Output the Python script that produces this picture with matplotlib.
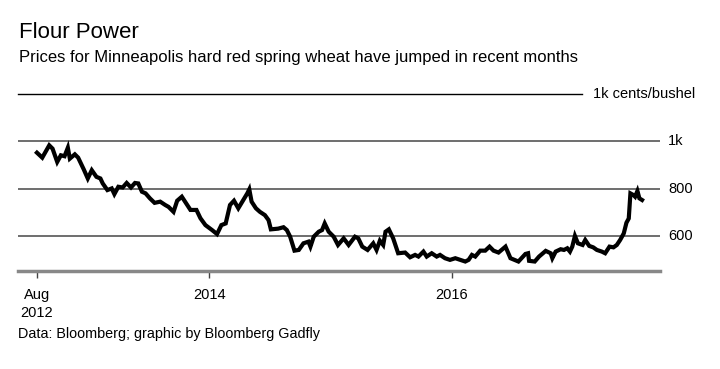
import matplotlib
matplotlib.use("Agg")
import matplotlib.pyplot as plt
import pandas as pd

plt.rcParams['font.family'] = ['Liberation Sans', 'DejaVu Sans']

dates = [
    "2012-08-01", "2012-08-17", "2012-09-07", "2012-09-17", "2012-10-01", "2012-10-12",
    "2012-10-23", "2012-11-02", "2012-11-08", "2012-11-23", "2012-12-03", "2012-12-20",
    "2013-01-01", "2013-01-13", "2013-01-27", "2013-02-08", "2013-02-15", "2013-03-01",
    "2013-03-14", "2013-03-22", "2013-04-03", "2013-04-16", "2013-04-28", "2013-05-11",
    "2013-05-23", "2013-06-02", "2013-06-13", "2013-06-24", "2013-07-07", "2013-07-21",
    "2013-08-07", "2013-08-22", "2013-09-01", "2013-09-16", "2013-09-27", "2013-10-11",
    "2013-11-06", "2013-11-24", "2013-12-06", "2013-12-21", "2014-01-10", "2014-01-25",
    "2014-02-07", "2014-02-20", "2014-03-05", "2014-03-17", "2014-03-30", "2014-04-14",
    "2014-04-26", "2014-05-02", "2014-05-09", "2014-05-22", "2014-06-03", "2014-06-18",
    "2014-06-29", "2014-07-06", "2014-07-28", "2014-08-13", "2014-08-23", "2014-09-02",
    "2014-09-15", "2014-09-28", "2014-10-12", "2014-10-27", "2014-11-02", "2014-11-12",
    "2014-11-27", "2014-12-07", "2014-12-15", "2014-12-27", "2015-01-11", "2015-01-24",
    "2015-02-10", "2015-02-25", "2015-03-16", "2015-03-26", "2015-04-07", "2015-04-23",
    "2015-05-10", "2015-05-20", "2015-05-30", "2015-06-09", "2015-06-16", "2015-06-26",
    "2015-07-09", "2015-07-24", "2015-08-14", "2015-08-29", "2015-09-13", "2015-09-23",
    "2015-10-08", "2015-10-18", "2015-11-02", "2015-11-17", "2015-11-27", "2015-12-12",
    "2015-12-27", "2016-01-12", "2016-01-27", "2016-02-11", "2016-02-21", "2016-03-02",
    "2016-03-12", "2016-03-27", "2016-04-11", "2016-04-24", "2016-05-06", "2016-05-21",
    "2016-06-11", "2016-06-26", "2016-07-20", "2016-08-10", "2016-08-18", "2016-08-21",
    "2016-09-07", "2016-09-20", "2016-10-10", "2016-10-25", "2016-10-30", "2016-11-09",
    "2016-11-24", "2016-12-04", "2016-12-14", "2016-12-22", "2016-12-29", "2017-01-06",
    "2017-01-15", "2017-01-29", "2017-02-06", "2017-02-18", "2017-03-02", "2017-03-13",
    "2017-03-28", "2017-04-07", "2017-04-20", "2017-05-02", "2017-05-12", "2017-05-22",
    "2017-06-02", "2017-06-10", "2017-06-17", "2017-06-22", "2017-07-01", "2017-07-06",
    "2017-07-13", "2017-07-19", "2017-07-27",
]
prices = [
    952, 931, 983, 969, 913, 941,
    937, 973, 927, 945, 931, 881,
    843, 878, 850, 843, 822, 794,
    801, 777, 808, 805, 824, 805,
    824, 822, 787, 780, 759, 740,
    745, 731, 723, 702, 749, 766,
    710, 710, 675, 646, 625, 608,
    646, 653, 731, 749, 717, 752,
    780, 797, 745, 717, 702, 688,
    667, 628, 631, 637, 625, 597,
    538, 541, 569, 576, 555, 597,
    618, 625, 653, 618, 597, 562,
    590, 562, 597, 590, 555, 541,
    569, 541, 580, 562, 618, 628,
    590, 527, 530, 510, 520, 513,
    534, 513, 527, 513, 520, 506,
    499, 506, 499, 492, 499, 520,
    513, 538, 538, 555, 538, 530,
    555, 506, 492, 524, 527, 495,
    492, 513, 537, 527, 506, 534,
    544, 541, 548, 534, 555, 600,
    569, 562, 583, 558, 552, 541,
    534, 527, 555, 552, 562, 583,
    611, 656, 674, 780, 773, 766,
    790, 759, 752,
]

grid_values = [600, 800, 1000]
grid_labels = ["600", "800", "1k"]
top_value = 1200
top_label = "1k cents/bushel"
xtick_dates = ["2012-08-01", "2014-01-01", "2016-01-01"]
xtick_labels = ["Aug\n2012", "2014", "2016"]

title = "Flour Power"
subtitle = "Prices for Minneapolis hard red spring wheat have jumped in recent months"
source = "Data: Bloomberg; graphic by Bloomberg Gadfly"

W, H = 720, 369
fig = plt.figure(figsize=(W / 100, H / 100), dpi=100)
ax_left, ax_right = 18, 660
ax_bottom, ax_top = 271, 94
ax = fig.add_axes([ax_left / W, 1 - ax_bottom / H, (ax_right - ax_left) / W, (ax_bottom - ax_top) / H])

x = pd.to_datetime(dates)
ax.plot(x, prices, color="black", lw=3.0, solid_joinstyle="miter", zorder=3)

ax.set_xlim(pd.Timestamp("2012-06-05"), pd.Timestamp("2017-09-19"))
ax.set_ylim(452, top_value)

for v in grid_values:
    ax.axhline(v, color="#555555", lw=1.2, zorder=1)
ax.plot([0, 0.878], [top_value, top_value], color="black", lw=1.0,
        transform=ax.get_yaxis_transform(), clip_on=False)
ax.text(593 / W, 1 - 94 / H, top_label, transform=fig.transFigure, ha="left", va="center",
        fontsize=10.5, color="black")

ytr = ax.get_yaxis_transform()
for v, lab in zip(grid_values, grid_labels):
    ax.text((668 - ax_left) / (ax_right - ax_left), v, lab, transform=ytr, ha="left",
            va="center", fontsize=10.5, color="black")

for s in ["top", "right", "left"]:
    ax.spines[s].set_visible(False)
ax.spines["bottom"].set_color("#888888")
ax.spines["bottom"].set_linewidth(2.5)
ax.set_yticks([])
ax.set_xticks(pd.to_datetime(xtick_dates))
ax.set_xticklabels(xtick_labels, fontsize=10.5, linespacing=1.35)
ax.tick_params(axis="x", length=5, width=1, color="#444444", pad=7)
for lab in ax.get_xticklabels():
    lab.set_verticalalignment("top")

fig.text(19 / W, 1 - 38 / H, title, fontsize=16, ha="left", va="baseline")
fig.text(19 / W, 1 - 62 / H, subtitle, fontsize=12, ha="left", va="baseline")
fig.text(18 / W, 1 - 338 / H, source, fontsize=10.4, ha="left", va="baseline")

fig.savefig("out.png", dpi=100)
